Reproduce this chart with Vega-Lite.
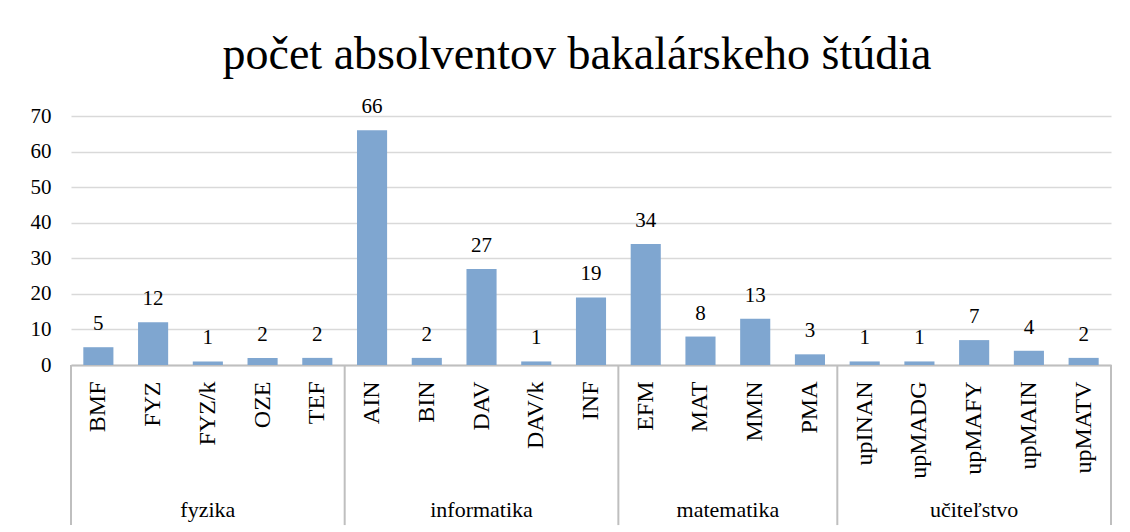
{
  "$schema": "https://vega.github.io/schema/vega-lite/v6.json",
  "width": 1040,
  "height": 249,
  "autosize": "none",
  "padding": {"left": 71, "top": 116, "right": 19, "bottom": 167},
  "background": "white",
  "title": {
    "text": "počet absolventov bakalárskeho štúdia",
    "font": "Liberation Serif",
    "fontSize": 46,
    "fontWeight": "normal",
    "color": "#000000",
    "anchor": "middle",
    "frame": "group",
    "dx": -14,
    "offset": 17
  },
  "config": {
    "view": {"stroke": null}
  },
  "resolve": {"axis": {"x": "independent", "y": "independent"}},
  "datasets": {
    "counts": [
      {"group": "fyzika", "program": "BMF", "value": 5},
      {"group": "fyzika", "program": "FYZ", "value": 12},
      {"group": "fyzika", "program": "FYZ/k", "value": 1},
      {"group": "fyzika", "program": "OZE", "value": 2},
      {"group": "fyzika", "program": "TEF", "value": 2},
      {"group": "informatika", "program": "AIN", "value": 66},
      {"group": "informatika", "program": "BIN", "value": 2},
      {"group": "informatika", "program": "DAV", "value": 27},
      {"group": "informatika", "program": "DAV/k", "value": 1},
      {"group": "informatika", "program": "INF", "value": 19},
      {"group": "matematika", "program": "EFM", "value": 34},
      {"group": "matematika", "program": "MAT", "value": 8},
      {"group": "matematika", "program": "MMN", "value": 13},
      {"group": "matematika", "program": "PMA", "value": 3},
      {"group": "učiteľstvo", "program": "upINAN", "value": 1},
      {"group": "učiteľstvo", "program": "upMADG", "value": 1},
      {"group": "učiteľstvo", "program": "upMAFY", "value": 7},
      {"group": "učiteľstvo", "program": "upMAIN", "value": 4},
      {"group": "učiteľstvo", "program": "upMATV", "value": 2}
    ],
    "groups": [
      {"group": "fyzika", "first": "BMF", "last": "TEF", "middle": "FYZ/k", "even": false},
      {"group": "informatika", "first": "AIN", "last": "INF", "middle": "DAV", "even": false},
      {"group": "matematika", "first": "EFM", "last": "PMA", "middle": "MAT", "even": true},
      {"group": "učiteľstvo", "first": "upINAN", "last": "upMATV", "middle": "upMAFY", "even": false}
    ]
  },
  "layer": [
    {
      "data": {"name": "counts"},
      "mark": {"type": "bar", "width": {"band": 0.55}, "color": "#7fa6d0"},
      "encoding": {
        "x": {
          "field": "program",
          "type": "nominal",
          "sort": null,
          "scale": {
            "domain": ["BMF", "FYZ", "FYZ/k", "OZE", "TEF", "AIN", "BIN", "DAV", "DAV/k", "INF", "EFM", "MAT", "MMN", "PMA", "upINAN", "upMADG", "upMAFY", "upMAIN", "upMATV"],
            "paddingInner": 0,
            "paddingOuter": 0
          },
          "axis": {
            "title": null,
            "domainColor": "#bfbfbf",
            "domainWidth": 2,
            "ticks": false,
            "grid": false,
            "labelAngle": 270,
            "labelAlign": "right",
            "labelBaseline": "middle",
            "labelFont": "Liberation Serif",
            "labelFontSize": 24,
            "labelColor": "#000000",
            "labelPadding": 16
          }
        },
        "y": {
          "field": "value",
          "type": "quantitative",
          "scale": {"domain": [0, 70], "nice": false, "zero": true},
          "axis": {
            "title": null,
            "values": [0, 10, 20, 30, 40, 50, 60, 70],
            "grid": true,
            "gridColor": "#d9d9d9",
            "gridWidth": 1.5,
            "domain": false,
            "ticks": false,
            "labelFont": "Liberation Serif",
            "labelFontSize": 21,
            "labelColor": "#000000",
            "labelPadding": 20
          }
        }
      }
    },
    {
      "data": {"name": "counts"},
      "mark": {"type": "text", "font": "Liberation Serif", "color": "#000000", "fontSize": 21, "baseline": "alphabetic", "dy": -17},
      "encoding": {
        "x": {"field": "program", "type": "nominal", "axis": null},
        "y": {"field": "value", "type": "quantitative", "axis": null},
        "text": {"field": "value", "type": "quantitative"}
      }
    },
    {
      "data": {"name": "groups"},
      "mark": {"type": "rule", "color": "#bfbfbf", "strokeWidth": 2},
      "encoding": {
        "x": {"field": "first", "type": "nominal", "bandPosition": 0, "axis": null},
        "y": {"datum": 0, "type": "quantitative", "axis": null},
        "y2": {"datum": -45}
      }
    },
    {
      "data": {"name": "groups"},
      "transform": [{"filter": "datum.group === 'učiteľstvo'"}],
      "mark": {"type": "rule", "color": "#bfbfbf", "strokeWidth": 2},
      "encoding": {
        "x": {"field": "last", "type": "nominal", "bandPosition": 1, "axis": null},
        "y": {"datum": 0, "type": "quantitative", "axis": null},
        "y2": {"datum": -45}
      }
    },
    {
      "data": {"name": "groups"},
      "transform": [{"filter": "!datum.even"}],
      "mark": {"type": "text", "font": "Liberation Serif", "color": "#000000", "fontSize": 22, "baseline": "alphabetic"},
      "encoding": {
        "x": {"field": "middle", "type": "nominal", "bandPosition": 0.5, "axis": null},
        "y": {"datum": -42.6, "type": "quantitative", "axis": null},
        "text": {"field": "group"}
      }
    },
    {
      "data": {"name": "groups"},
      "transform": [{"filter": "datum.even"}],
      "mark": {"type": "text", "font": "Liberation Serif", "color": "#000000", "fontSize": 22, "baseline": "alphabetic"},
      "encoding": {
        "x": {"field": "middle", "type": "nominal", "bandPosition": 1, "axis": null},
        "y": {"datum": -42.6, "type": "quantitative", "axis": null},
        "text": {"field": "group"}
      }
    }
  ]
}
